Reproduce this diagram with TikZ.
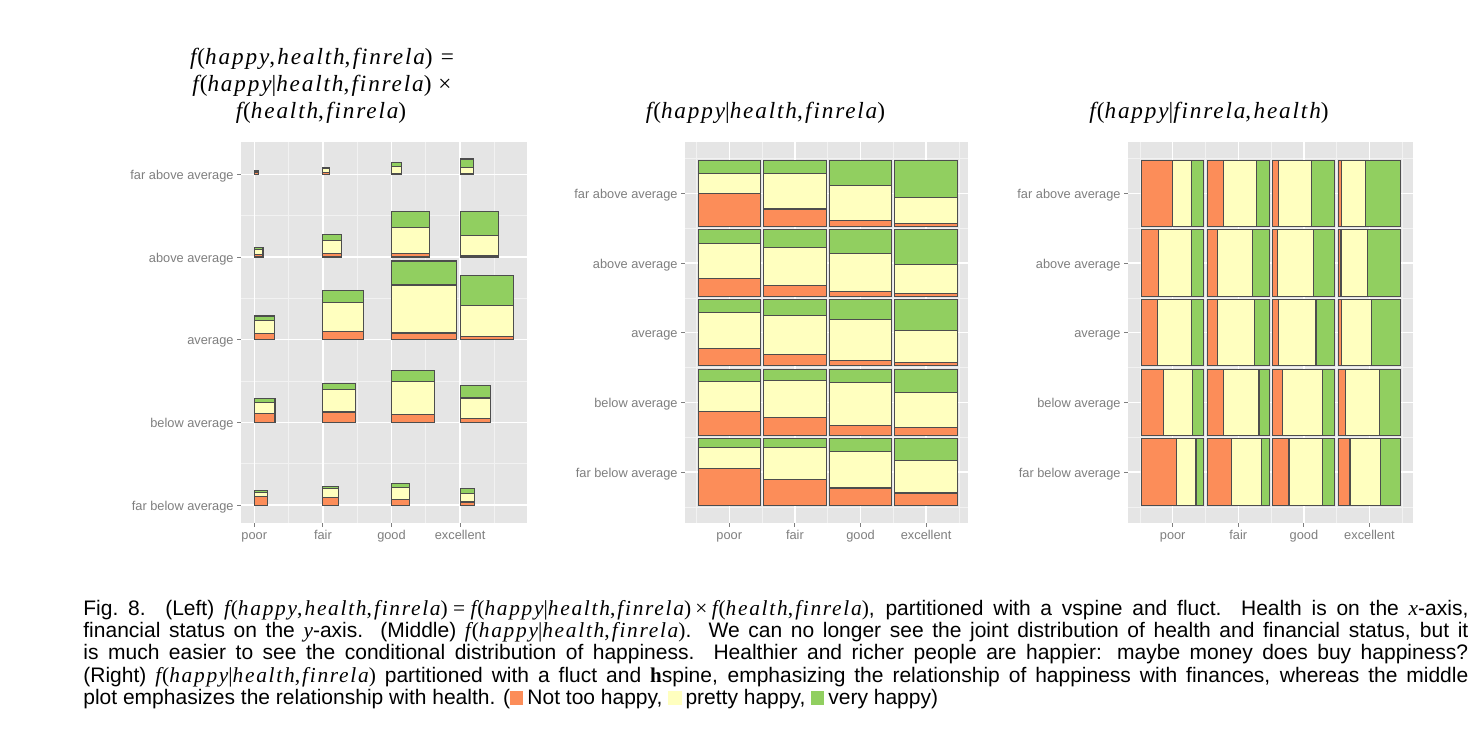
\documentclass[tikz,border=0pt]{standalone}
\usepackage{fontspec}
\setmainfont{Liberation Sans}
\newfontfamily\tim[LetterSpace=8]{Liberation Serif}
\newfontfamily\timb{Liberation Serif}
\definecolor{cor}{HTML}{FC8D59}
\definecolor{cyl}{HTML}{FFFFBF}
\definecolor{cgr}{HTML}{91CF60}
\definecolor{ggbg}{HTML}{E5E5E5}
\definecolor{ggminor}{HTML}{F2F2F2}
\definecolor{ggtxt}{HTML}{7F7F7F}
\definecolor{ggedge}{HTML}{4D4D4D}
\newcommand\Mi[1]{{\tim\itshape #1}}
\newcommand\Mr[1]{{\tim #1}}
\newcommand\Mcm{\Mr{,}\kern0.1em}
\newcommand\Fhhf{\Mi{f}\kern0.04em\Mr{(}\Mi{happy}\Mcm\Mi{health}\Mcm\Mi{finrela}\Mr{)}}
\newcommand\Fgiv{\Mi{f}\kern0.04em\Mr{(}\Mi{happy}\Mr{|}\Mi{health}\Mcm\Mi{finrela}\Mr{)}}
\newcommand\Fgivr{\Mi{f}\kern0.04em\Mr{(}\Mi{happy}\Mr{|}\Mi{finrela}\Mcm\Mi{health}\Mr{)}}
\newcommand\Fhf{\Mi{f}\kern0.04em\Mr{(}\Mi{health}\Mcm\Mi{finrela}\Mr{)}}
\newcommand\Cm[1]{{\fontsize{10.7}{11.2}\selectfont #1}}
\newcommand\Sq[1]{\textcolor{#1}{\rule{6.6pt}{6.6pt}}}
\tikzset{
 panel/.style={fill=ggbg, draw=none},
 major/.style={draw=white, line width=0.75pt},
 minor/.style={draw=ggminor, line width=0.35pt},
 tickmark/.style={draw=ggtxt, line width=0.5pt},
 ylab/.style={anchor=mid east, inner sep=0pt, text=ggtxt, font=\fontsize{6.4}{7}\selectfont},
 xlab/.style={anchor=base, inner sep=0pt, text=ggtxt, font=\fontsize{6.4}{7}\selectfont},
 seg/.style={draw=ggedge, line width=0.55pt},
 ttl/.style={anchor=base, inner sep=0pt, font=\fontsize{11.6}{13}\selectfont},
 capline/.style={anchor=base west, inner sep=0pt, font=\fontsize{10.5}{11.2}\selectfont},
}
\begin{document}
\begin{tikzpicture}[x=0.5pt,y=-0.5pt]
\useasboundingbox (0,0) rectangle (1480,750);
\fill[white] (0,0) rectangle (1480,750);

% ---------- titles ----------
\node[ttl] (t1) at (322,64) {\Fhhf\kern0.35em\Mr{=}};
\node[ttl] (t2) at (322,91) {\Fgiv\kern0.3em\Mr{×}};
\node[ttl] (t3) at (321,118) {\Fhf};
\node[ttl] (t4) at (765.5,118) {\Fgiv};
\node[ttl] (t5) at (1209,118) {\Fgivr};

% ---------- left panel ----------
\fill[panel] (241,142) rectangle (527,523);
\foreach \x in {288.6,357.2,425.8,494.4} \draw[minor] (\x,142) -- (\x,523);
\foreach \y in {215.65,298.35,381.05,463.75} \draw[minor] (241,\y) -- (527,\y);
\foreach \x in {254.3,322.9,391.5,460.1} {\draw[major] (\x,142) -- (\x,523); \draw[tickmark] (\x,523) -- (\x,527);}
\foreach \y in {174.3,257.0,339.7,422.4,505.1} {\draw[major] (241,\y) -- (527,\y); \draw[tickmark] (237,\y) -- (241,\y);}
\foreach \y/\t [count=\k] in {174.3/far above average,257.0/above average,339.7/average,422.4/below average,505.1/far below average}
  \node[ylab, name=ly\k] at (234,\y) {\t};
\foreach \x/\t [count=\k] in {254.3/poor,322.9/fair,391.5/good,460.1/excellent}
  \node[xlab, name=lx\k] at (\x,539) {\t};
\foreach \x/\y/\w/\h/\o/\p in {
 254.3/174.3/4.3/4/.503/.294, 322.9/174.3/6.7/7/.264/.528, 391.5/174.3/10.3/12/.086/.538, 460.1/174.3/13/15.3/.046/.386,
 254.3/257.0/8.7/9.3/.271/.528, 322.9/257.0/18.7/22.3/.161/.573, 391.5/257.0/38/45.3/.070/.578, 460.1/257.0/38/45.6/.040/.432,
 254.3/339.7/20/23.7/.261/.549, 322.9/339.7/41/49/.165/.595, 391.5/339.7/65.3/78.7/.085/.61, 460.1/339.7/53.3/64.3/.055/.475,
 254.3/422.4/20.7/24.3/.357/.462, 322.9/422.4/33/39.3/.266/.568, 391.5/422.4/42.7/51.7/.151/.643, 460.1/422.4/30.7/37.3/.116/.538,
 254.3/505.1/13/14.7/.555/.32, 322.9/505.1/16/19/.39/.485, 391.5/505.1/18/21.7/.26/.545, 460.1/505.1/14/16.7/.185/.49}
{
 \filldraw[seg, fill=cor] (\x,\y) rectangle ({\x+\w},{\y-\o*\h});
 \filldraw[seg, fill=cyl] (\x,{\y-\o*\h}) rectangle ({\x+\w},{\y-(\o+\p)*\h});
 \filldraw[seg, fill=cgr] (\x,{\y-(\o+\p)*\h}) rectangle ({\x+\w},{\y-\h});
}

% ---------- middle panel ----------
\fill[panel] (685,142) rectangle (968,523);
\foreach \x in {696.5,762.1,827.7,893.3,958.9} \draw[minor] (\x,142) -- (\x,523);
\foreach \y in {158.45,228.15,297.85,367.55,437.25,506.95} \draw[minor] (685,\y) -- (968,\y);
\foreach \x in {729.3,794.9,860.5,926.1} {\draw[major] (\x,142) -- (\x,523); \draw[tickmark] (\x,523) -- (\x,527);}
\foreach \y in {193.3,263.0,332.7,402.4,472.1} {\draw[major] (685,\y) -- (968,\y); \draw[tickmark] (681,\y) -- (685,\y);}
\foreach \y/\t [count=\k] in {193.3/far above average,263.0/above average,332.7/average,402.4/below average,472.1/far below average}
  \node[ylab, name=my\k] at (678,\y) {\t};
\foreach \x/\t [count=\k] in {729.3/poor,794.9/fair,860.5/good,926.1/excellent}
  \node[xlab, name=mx\k] at (\x,539) {\t};

% ---------- right panel ----------
\fill[panel] (1128,142) rectangle (1413,523);
\foreach \x in {1139.9,1205.5,1271.1,1336.7,1402.3} \draw[minor] (\x,142) -- (\x,523);
\foreach \y in {158.45,228.15,297.85,367.55,437.25,506.95} \draw[minor] (1128,\y) -- (1413,\y);
\foreach \x in {1172.7,1238.3,1303.9,1369.5} {\draw[major] (\x,142) -- (\x,523); \draw[tickmark] (\x,523) -- (\x,527);}
\foreach \y in {193.3,263.0,332.7,402.4,472.1} {\draw[major] (1128,\y) -- (1413,\y); \draw[tickmark] (1124,\y) -- (1128,\y);}
\foreach \y/\t [count=\k] in {193.3/far above average,263.0/above average,332.7/average,402.4/below average,472.1/far below average}
  \node[ylab, name=ry\k] at (1121,\y) {\t};
\foreach \x/\t [count=\k] in {1172.7/poor,1238.3/fair,1303.9/good,1369.5/excellent}
  \node[xlab, name=rx\k] at (\x,539) {\t};

% ---------- tiles (middle: vertical spine, right: horizontal spine) ----------
\foreach \c/\ry/\o/\p in {
 0/193.3/.503/.294, 1/193.3/.264/.528, 2/193.3/.086/.538, 3/193.3/.046/.386,
 0/263.0/.271/.528, 1/263.0/.161/.573, 2/263.0/.070/.578, 3/263.0/.040/.432,
 0/332.7/.261/.549, 1/332.7/.165/.595, 2/332.7/.085/.61, 3/332.7/.055/.475,
 0/402.4/.357/.462, 1/402.4/.266/.568, 2/402.4/.151/.643, 3/402.4/.116/.538,
 0/472.1/.555/.32, 1/472.1/.39/.485, 2/472.1/.26/.545, 3/472.1/.185/.49}
{
 \pgfmathsetmacro\mx{729.3+65.6*\c}
 \pgfmathsetmacro\rx{1172.7+65.6*\c}
 % middle
 \filldraw[seg, fill=cor] ({\mx-31.2},{\ry+33.2}) rectangle ({\mx+31.2},{\ry+33.2-66.4*\o});
 \filldraw[seg, fill=cyl] ({\mx-31.2},{\ry+33.2-66.4*\o}) rectangle ({\mx+31.2},{\ry+33.2-66.4*(\o+\p)});
 \filldraw[seg, fill=cgr] ({\mx-31.2},{\ry+33.2-66.4*(\o+\p)}) rectangle ({\mx+31.2},{\ry-33.2});
 % right
 \filldraw[seg, fill=cor] ({\rx-31},{\ry-33.2}) rectangle ({\rx-31+62*\o},{\ry+33.2});
 \filldraw[seg, fill=cyl] ({\rx-31+62*\o},{\ry-33.2}) rectangle ({\rx-31+62*(\o+\p)},{\ry+33.2});
 \filldraw[seg, fill=cgr] ({\rx-31+62*(\o+\p)},{\ry-33.2}) rectangle ({\rx+31},{\ry+33.2});
}

% ---------- caption ----------
\node[capline] (c1) at (83,615) {\makebox[692.5pt][s]{Fig.\ 8.\ \ (Left) \Cm{\Fhhf\kern0.25em\Mr{=}\kern0.25em\Fgiv\kern0.2em\Mr{×}\kern0.2em\Fhf}, partitioned with a vspine and fluct.\ \ Health is on the \Cm{\Mi{x}}-axis,}};
\node[capline] (c2) at (83,637.4) {\makebox[692.5pt][s]{financial status on the \Cm{\Mi{y}}-axis.\ \ (Middle) \Cm{\Fgiv}.\ \ We can no longer see the joint distribution of health and financial status, but it}};
\node[capline] (c3) at (83,659.8) {\makebox[692.5pt][s]{is much easier to see the conditional distribution of happiness.\ \ Healthier and richer people are happier: maybe money does buy happiness?}};
\node[capline] (c4) at (83,682.2) {\makebox[692.5pt][s]{(Right) \Cm{\Fgiv} partitioned with a fluct and {\timb\bfseries h}spine, emphasizing the relationship of happiness with finances, whereas the middle}};
\node[capline] (c5) at (83,704.6) {plot emphasizes the relationship with health. (\Sq{cor}\kern2pt Not too happy, \Sq{cyl}\kern2pt pretty happy, \Sq{cgr}\kern2pt very happy)};
\end{tikzpicture}
\end{document}
